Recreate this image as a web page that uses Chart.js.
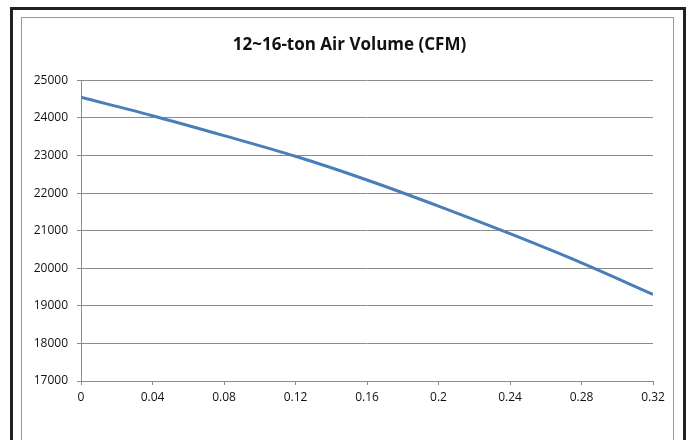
<!DOCTYPE html>
<html>
<head>
<meta charset="utf-8">
<script src="https://cdn.jsdelivr.net/npm/chart.js@4"></script>
<style>
	html, body { margin: 0; padding: 0; background: #fff; overflow: hidden; }
	#frame { position: absolute; left: 10px; top: 7px; width: 670px; height: 500px;
		border: 3px solid #222; border-bottom: none; }
	#inner { position: absolute; left: 21px; top: 17px; width: 651px; height: 500px;
		border: 1px solid #9a9a9a; border-bottom: none; }
	#wrap { position: absolute; left: 0; top: 0; width: 691px; height: 440px; }
</style>
</head>
<body>
<div id="frame"></div>
<div id="inner"></div>
<div id="wrap"><canvas id="air-chart" width="691" height="440"></canvas></div>
<script>
'use strict';

const chartTitle = '12~16-ton Air Volume (CFM)';
const pressure = [0, 0.04, 0.08, 0.12, 0.16, 0.2, 0.24, 0.28, 0.32];
const airVolume = [24550, 24060, 23530, 22980, 22350, 21655, 20920, 20145, 19305];
const xTicks = [0, 0.04, 0.08, 0.12, 0.16, 0.2, 0.24, 0.28, 0.32];
const yTicks = [17000, 18000, 19000, 20000, 21000, 22000, 23000, 24000, 25000];

const gridColor = '#8c8c8c';
const tickFont = {family: 'Open Sans', size: 12};

// centre the title on the whole frame, not on the padded layout box
const centreTitle = {
	id: 'centreTitle',
	afterLayout(chart){
		if(chart.titleBlock){
			chart.titleBlock.left = 0;
			chart.titleBlock.right = 699;
			chart.titleBlock.width = 699;
		}
	}
};

document.addEventListener('DOMContentLoaded', function(){
	const canvas = document.getElementById('air-chart');
	new Chart(canvas, {
		type: 'scatter',
		data: {
			datasets: [{
				data: pressure.map((p, i) => ({x: p, y: airVolume[i]})),
				showLine: true,
				borderColor: '#4a7ebb',
				borderWidth: 3,
				pointRadius: 0,
				cubicInterpolationMode: 'monotone'
			}]
		},
		plugins: [centreTitle],
		options: {
			responsive: false,
			animation: false,
			events: [],
			layout: {padding: {left: 0, right: 38, top: 0, bottom: 0}},
			plugins: {
				legend: {display: false},
				tooltip: {enabled: false},
				title: {
					display: true,
					text: chartTitle,
					color: '#111',
					font: {family: 'Open Sans', size: 17, weight: 'bold'},
					padding: {top: 35, bottom: 25}
				}
			},
			scales: {
				x: {
					type: 'linear',
					min: 0,
					max: 0.32,
					afterBuildTicks: axis => { axis.ticks = xTicks.map(v => ({value: v})); },
					afterFit: axis => { axis.height = 59; },
					grid: {drawOnChartArea: false, drawTicks: true, tickLength: 4, color: gridColor},
					border: {color: gridColor},
					ticks: {color: '#111', font: tickFont, padding: 5, maxRotation: 0,
						callback: v => String(v)}
				},
				y: {
					min: 17000,
					max: 25000,
					afterBuildTicks: axis => { axis.ticks = yTicks.map(v => ({value: v})); },
					afterFit: axis => { axis.width = 81; },
					grid: {color: gridColor, tickLength: 4},
					border: {color: gridColor},
					ticks: {color: '#111', font: tickFont, padding: 9,
						callback: v => String(v)}
				}
			}
		}
	});
});
</script>
</body>
</html>
